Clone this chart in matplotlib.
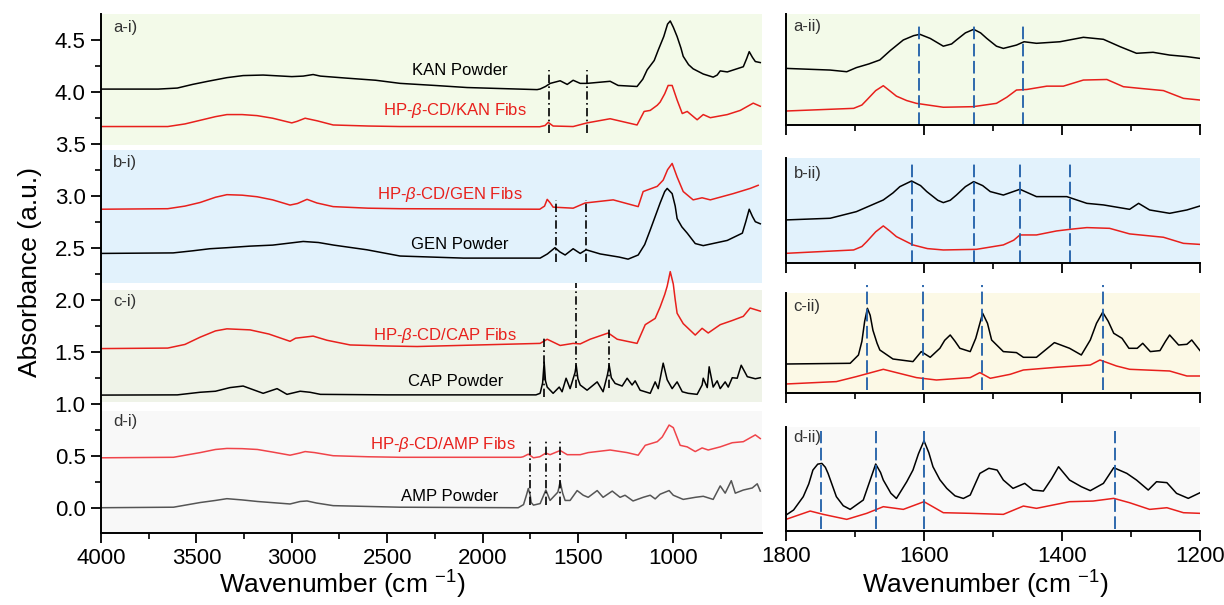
import numpy as np
import matplotlib
matplotlib.use('Agg')
import matplotlib.pyplot as plt
from matplotlib.ticker import MultipleLocator

plt.rcParams['font.family'] = ['Liberation Sans', 'DejaVu Sans']
plt.rcParams['mathtext.fontset'] = 'custom'
plt.rcParams['mathtext.rm'] = 'Liberation Sans'
plt.rcParams['mathtext.it'] = 'Liberation Sans:italic'

# ---- full-range spectra (wavenumber cm-1, absorbance a.u.) ----
kan_pow = np.array([(4000, 4.025), (3700, 4.025), (3600, 4.035), (3520, 4.07), (3440, 4.10), (3340, 4.135),
                    (3255, 4.155), (3150, 4.16), (3000, 4.145), (2940, 4.15), (2888, 4.165), (2850, 4.15),
                    (2710, 4.13), (2560, 4.11), (2432, 4.08), (2250, 4.06), (2081, 4.04), (1900, 4.03),
                    (1714, 4.02), (1698, 4.026), (1670, 4.05), (1645, 4.08), (1593, 4.105), (1556, 4.07),
                    (1525, 4.11), (1488, 4.08), (1452, 4.08), (1331, 4.10), (1289, 4.06), (1190, 4.05),
                    (1160, 4.12), (1137, 4.21), (1100, 4.30), (1079, 4.40), (1050, 4.53), (1030, 4.65),
                    (1016, 4.68), (1000, 4.62), (980, 4.53), (960, 4.42), (948, 4.34), (920, 4.26),
                    (896, 4.22), (843, 4.17), (791, 4.14), (770, 4.16), (754, 4.20), (717, 4.19),
                    (633, 4.24), (615, 4.32), (602, 4.385), (585, 4.33), (570, 4.29), (544, 4.28)])
kan_fib = np.array([(4000, 3.665), (3650, 3.665), (3560, 3.69), (3480, 3.725), (3400, 3.76), (3340, 3.78),
                    (3260, 3.78), (3182, 3.77), (3100, 3.745), (3000, 3.70), (2972, 3.715), (2930, 3.745),
                    (2867, 3.72), (2783, 3.68), (2600, 3.67), (2432, 3.665), (1700, 3.663), (1672, 3.675),
                    (1656, 3.705), (1630, 3.67), (1525, 3.665), (1452, 3.70), (1331, 3.74), (1190, 3.68),
                    (1153, 3.81), (1121, 3.82), (1084, 3.87), (1069, 3.90), (1045, 3.98), (1027, 4.06),
                    (1006, 4.06), (980, 3.92), (953, 3.79), (927, 3.81), (875, 3.73), (843, 3.78),
                    (806, 3.75), (717, 3.78), (649, 3.82), (581, 3.89), (544, 3.86)])
gen_fib = np.array([(4000, 2.87), (3650, 2.875), (3560, 2.90), (3480, 2.935), (3400, 2.985), (3340, 3.01),
                    (3260, 3.005), (3182, 2.99), (3100, 2.96), (3009, 2.91), (2970, 2.925), (2920, 2.965),
                    (2868, 2.93), (2783, 2.895), (2600, 2.88), (2432, 2.875), (1700, 2.87), (1675, 2.90),
                    (1661, 2.965), (1645, 2.93), (1630, 2.89), (1525, 2.88), (1462, 2.93), (1315, 2.96),
                    (1184, 2.895), (1158, 3.04), (1084, 3.09), (1053, 3.15), (1030, 3.25), (1006, 3.31),
                    (980, 3.18), (948, 3.04), (896, 2.96), (849, 2.98), (806, 2.96), (686, 3.02),
                    (597, 3.07), (555, 3.10)])
gen_pow = np.array([(4000, 2.445), (3622, 2.45), (3520, 2.47), (3430, 2.49), (3340, 2.50), (3220, 2.515),
                    (3100, 2.525), (2940, 2.56), (2860, 2.55), (2780, 2.525), (2606, 2.48), (2432, 2.42),
                    (2100, 2.40), (1698, 2.40), (1660, 2.44), (1620, 2.50), (1595, 2.46), (1567, 2.43),
                    (1525, 2.49), (1488, 2.445), (1457, 2.48), (1383, 2.44), (1284, 2.41), (1237, 2.39),
                    (1184, 2.43), (1150, 2.53), (1121, 2.67), (1095, 2.80), (1069, 2.93), (1045, 3.04),
                    (1032, 3.07), (1006, 3.02), (990, 2.90), (980, 2.78), (955, 2.70), (927, 2.64),
                    (885, 2.54), (843, 2.52), (717, 2.57), (638, 2.64), (620, 2.75), (602, 2.87),
                    (585, 2.80), (570, 2.75), (544, 2.73)])
cap_fib = np.array([(4000, 1.53), (3650, 1.535), (3560, 1.57), (3480, 1.64), (3400, 1.70), (3340, 1.72),
                    (3219, 1.71), (3120, 1.67), (3009, 1.60), (2980, 1.63), (2888, 1.65), (2815, 1.61),
                    (2694, 1.565), (2500, 1.555), (2343, 1.55), (1698, 1.58), (1661, 1.62), (1593, 1.56),
                    (1525, 1.58), (1488, 1.575), (1436, 1.62), (1341, 1.68), (1294, 1.62), (1190, 1.58),
                    (1147, 1.76), (1095, 1.82), (1069, 1.93), (1045, 2.05), (1032, 2.13), (1016, 2.27),
                    (1000, 2.15), (990, 2.00), (980, 1.87), (948, 1.77), (885, 1.66), (849, 1.725),
                    (817, 1.68), (754, 1.76), (691, 1.80), (633, 1.84), (597, 1.92), (544, 1.89)])
cap_pow = np.array([(4000, 1.083), (3600, 1.085), (3481, 1.11), (3400, 1.12), (3324, 1.155), (3255, 1.17),
                    (3150, 1.10), (3077, 1.145), (3025, 1.09), (2956, 1.12), (2904, 1.11), (2850, 1.09),
                    (2500, 1.085), (1720, 1.085), (1698, 1.10), (1685, 1.20), (1677, 1.40), (1670, 1.22),
                    (1661, 1.16), (1630, 1.10), (1598, 1.16), (1583, 1.115), (1562, 1.245), (1541, 1.145),
                    (1515, 1.30), (1509, 1.37), (1500, 1.24), (1488, 1.18), (1452, 1.13), (1399, 1.21),
                    (1368, 1.115), (1345, 1.28), (1336, 1.37), (1325, 1.25), (1305, 1.195), (1268, 1.17),
                    (1242, 1.245), (1216, 1.18), (1200, 1.22), (1174, 1.13), (1121, 1.10), (1095, 1.21),
                    (1079, 1.145), (1053, 1.39), (1032, 1.23), (1006, 1.145), (980, 1.21), (953, 1.115),
                    (922, 1.10), (875, 1.09), (849, 1.18), (843, 1.245), (822, 1.155), (812, 1.355),
                    (791, 1.16), (770, 1.22), (754, 1.145), (728, 1.21), (712, 1.16), (691, 1.25),
                    (665, 1.245), (644, 1.37), (612, 1.26), (570, 1.24), (544, 1.25)])
amp_fib = np.array([(4000, 0.48), (3620, 0.485), (3480, 0.53), (3400, 0.56), (3340, 0.57), (3260, 0.568),
                    (3180, 0.56), (3100, 0.535), (3009, 0.505), (2960, 0.525), (2930, 0.54), (2880, 0.53),
                    (2783, 0.50), (2600, 0.49), (2432, 0.485), (1800, 0.485), (1787, 0.49), (1760, 0.515),
                    (1733, 0.48), (1700, 0.49), (1668, 0.525), (1646, 0.51), (1593, 0.55), (1556, 0.51),
                    (1488, 0.51), (1446, 0.53), (1331, 0.555), (1242, 0.53), (1184, 0.505), (1147, 0.60),
                    (1084, 0.635), (1058, 0.68), (1022, 0.795), (1000, 0.77), (964, 0.60), (927, 0.585),
                    (885, 0.54), (849, 0.575), (817, 0.555), (754, 0.585), (691, 0.625), (633, 0.635),
                    (570, 0.70), (544, 0.665)])
amp_pow = np.array([(4000, 0.0), (3620, 0.005), (3480, 0.05), (3400, 0.07), (3340, 0.087), (3260, 0.075),
                    (3180, 0.06), (3009, 0.036), (2956, 0.06), (2920, 0.065), (2870, 0.045), (2783, 0.02),
                    (2432, 0.005), (1813, 0.0), (1785, 0.03), (1770, 0.12), (1760, 0.185), (1750, 0.12),
                    (1745, 0.05), (1733, 0.025), (1698, 0.04), (1668, 0.17), (1646, 0.07), (1605, 0.15),
                    (1593, 0.25), (1580, 0.14), (1567, 0.07), (1541, 0.07), (1504, 0.165), (1472, 0.12),
                    (1446, 0.10), (1399, 0.165), (1368, 0.10), (1320, 0.16), (1279, 0.10), (1253, 0.12),
                    (1211, 0.065), (1158, 0.10), (1121, 0.12), (1095, 0.085), (1069, 0.13), (1022, 0.165),
                    (1000, 0.12), (948, 0.08), (885, 0.10), (843, 0.11), (791, 0.08), (754, 0.21),
                    (728, 0.14), (696, 0.26), (675, 0.14), (633, 0.17), (586, 0.19), (560, 0.23), (544, 0.16)])

# marker lines in the full-range panel: (wavenumber, y from, y to)
marks_left = [(1650, 3.60, 4.21), (1452, 3.60, 4.21),
              (1614, 2.365, 2.96), (1457, 2.365, 2.96),
              (1677, 1.06, 1.64), (1509, 1.15, 2.16), (1336, 1.15, 1.74),
              (1750, 0.03, 0.65), (1668, 0.03, 0.65), (1593, 0.03, 0.65)]

# ---- zoomed spectra 1800-1200 cm-1 (relative units, 0-100 of panel height) ----
kan_pow_z = np.array([(1800, 51), (1736, 49.5), (1712, 48), (1698, 51.7), (1680, 55), (1664, 58.6), (1649, 67),
                      (1630, 76.6), (1615, 80.5), (1606, 81.7), (1591, 78), (1572, 71), (1560, 73), (1553, 76.6),
                      (1540, 83), (1528, 86.2), (1518, 83), (1509, 78), (1495, 71), (1485, 69), (1466, 72),
                      (1455, 75), (1437, 73.6), (1403, 75), (1369, 79), (1340, 77.2), (1316, 70.6),
                      (1292, 64.6), (1268, 65.5), (1244, 63), (1219, 61.6), (1200, 60)])
kan_fib_z = np.array([(1800, 12.6), (1702, 15), (1690, 18), (1683, 22.5), (1670, 31), (1659, 35.4),
                      (1650, 31), (1640, 26), (1625, 22), (1611, 19.5), (1572, 16), (1529, 16.5), (1495, 19.5),
                      (1480, 25), (1466, 31.5), (1451, 32), (1422, 35), (1398, 35), (1369, 40.5), (1335, 41),
                      (1311, 34.5), (1287, 33), (1253, 31), (1224, 24), (1200, 22.5)])
gen_pow_z = np.array([(1800, 41.3), (1736, 42.9), (1698, 49.2), (1659, 60.3), (1645, 67), (1635, 73),
                      (1618, 78.4), (1605, 74), (1596, 68.3), (1580, 60), (1572, 57.8), (1562, 60),
                      (1553, 65), (1540, 73), (1528, 77.8), (1515, 74), (1504, 68.3), (1485, 65),
                      (1461, 70.5), (1437, 63.5), (1393, 63.5), (1364, 57.1), (1340, 55.6), (1302, 51.4),
                      (1289, 57.1), (1273, 50.8), (1244, 47.6), (1219, 50.8), (1200, 54.6)])
gen_fib_z = np.array([(1800, 9.5), (1702, 12.7), (1690, 16), (1683, 20.6), (1670, 30), (1659, 35.6),
                      (1650, 31), (1640, 25.4), (1616, 17.5), (1595, 14), (1572, 12.7), (1524, 13.3),
                      (1485, 17.5), (1470, 22), (1461, 27), (1437, 27), (1408, 30.8), (1388, 32.4),
                      (1364, 34), (1331, 33.3), (1302, 28), (1253, 24.8), (1224, 19), (1200, 18)])
cap_pow_z = np.array([(1800, 29.3), (1707, 30), (1695, 38.3), (1690, 52), (1686, 72), (1682, 85), (1678, 78),
                      (1674, 63), (1668, 50), (1664, 43.3), (1645, 34.3), (1616, 31.7), (1604, 41.7),
                      (1591, 36), (1577, 45), (1570, 53), (1562, 58.3), (1555, 52), (1548, 45), (1533, 41.7),
                      (1525, 55), (1515, 80), (1508, 70), (1502, 53.3), (1485, 41.7), (1466, 40.7), (1456, 36),
                      (1437, 36), (1411, 50.7), (1389, 45), (1372, 38.3), (1359, 53.3), (1350, 70), (1341, 81),
                      (1333, 72), (1325, 60), (1313, 55), (1303, 45), (1291, 45), (1283, 50), (1272, 41.7),
                      (1258, 42.7), (1250, 52), (1244, 58.3), (1231, 48.3), (1219, 49), (1212, 53.3),
                      (1200, 42.7)])
cap_fib_z = np.array([(1800, 9.3), (1727, 11.7), (1698, 16.7), (1659, 24), (1640, 20.7), (1611, 15.7),
                      (1582, 13.3), (1533, 15.7), (1519, 20.7), (1504, 15), (1475, 19), (1456, 23.3),
                      (1408, 26), (1359, 28.3), (1345, 33.3), (1321, 27.3), (1302, 24), (1244, 22.3),
                      (1219, 17.3), (1200, 17.3)])
amp_pow_z = np.array([(1800, 15), (1789, 19.9), (1775, 32.7), (1767, 45), (1761, 58.3), (1754, 64),
                      (1748, 64.7), (1743, 61), (1739, 55), (1727, 32.7), (1717, 24), (1707, 20.5),
                      (1688, 29.5), (1678, 48.7), (1670, 64.1), (1663, 56), (1659, 48.7), (1648, 36),
                      (1640, 31), (1625, 47.1), (1616, 58.3), (1608, 74), (1600, 86.5), (1593, 75),
                      (1587, 61.5), (1577, 49), (1567, 40.7), (1555, 33.5), (1543, 31), (1533, 34.3),
                      (1519, 55.1), (1506, 60), (1494, 58.3), (1485, 48.7), (1471, 40.7), (1454, 45.5),
                      (1442, 39.1), (1427, 38.1), (1415, 50), (1405, 61.5), (1389, 48.7), (1372, 42.3),
                      (1359, 38.5), (1340, 45.5), (1325, 60.6), (1306, 55.1), (1292, 48.7), (1275, 39.1),
                      (1263, 47.1), (1248, 46.2), (1234, 35.9), (1217, 31.1), (1200, 36.5)])
amp_fib_z = np.array([(1800, 10.9), (1765, 18.9), (1746, 15.7), (1712, 10.9), (1683, 16.7), (1659, 23.1),
                      (1630, 20.5), (1600, 27.9), (1572, 17.3), (1533, 16.7), (1485, 15.7), (1456, 23.7),
                      (1437, 21.5), (1389, 27.9), (1355, 28.5), (1325, 31.1), (1302, 26.9), (1273, 20.5),
                      (1248, 22.1), (1224, 17.3), (1200, 16.7)])

marks_a = [1607, 1528, 1456]
marks_b = [1618, 1527, 1461, 1389]
marks_c = [1683, 1601, 1516, 1341]
marks_d = [1749, 1670, 1600, 1323]

RED = '#e8201c'
RED2 = '#f0444a'
BLUE = '#1f5ea8'
GREEN_BG = '#f3fae9'
BLUE_BG = '#e2f2fc'
GRAY_GREEN_BG = '#eff3e8'
GRAY_BG = '#f8f8f8'
YELLOW_BG = '#fcf9e6'

W, H = 1224, 605
fig = plt.figure(figsize=(W / 100, H / 100), dpi=100)


def style(ax):
    ax.spines['top'].set_visible(False)
    ax.spines['right'].set_visible(False)
    ax.spines['left'].set_linewidth(1.4)
    ax.spines['bottom'].set_linewidth(1.4)


# ---------------- left panel ----------------
ax = fig.add_axes([101 / W, 1 - 533 / H, 661 / W, 519 / H])
style(ax)
ax.set_xlim(4000, 535)
ax.set_ylim(-0.243, 4.747)
ax.axhspan(3.49, 4.747, color=GREEN_BG, lw=0, zorder=0)
ax.axhspan(2.16, 3.44, color=BLUE_BG, lw=0, zorder=0)
ax.axhspan(1.013, 2.09, color=GRAY_GREEN_BG, lw=0, zorder=0)
ax.axhspan(-0.243, 0.93, color=GRAY_BG, lw=0, zorder=0)

for s, c in [(kan_pow, 'k'), (kan_fib, RED), (gen_fib, RED), (gen_pow, 'k'),
             (cap_fib, RED), (cap_pow, 'k'), (amp_fib, RED2), (amp_pow, '#555555')]:
    ax.plot(s[:, 0], s[:, 1], color=c, lw=1.1, solid_joinstyle='round')
for x, y0, y1 in marks_left:
    ax.plot([x, x], [y0, y1], color='k', lw=1.2, ls=(0, (5, 2, 1, 2)))

fs = 12
ax.text(1871, 4.20, 'KAN Powder', ha='right', va='center', fontsize=fs)
ax.text(1766, 3.82, r'HP-$\beta$-CD/KAN Fibs', ha='right', va='center', fontsize=fs, color=RED)
ax.text(1792, 3.01, r'HP-$\beta$-CD/GEN Fibs', ha='right', va='center', fontsize=fs, color=RED)
ax.text(1866, 2.53, 'GEN Powder', ha='right', va='center', fontsize=fs)
ax.text(1818, 1.66, r'HP-$\beta$-CD/CAP Fibs', ha='right', va='center', fontsize=fs, color=RED)
ax.text(1892, 1.21, 'CAP Powder', ha='right', va='center', fontsize=fs)
ax.text(1824, 0.61, r'HP-$\beta$-CD/AMP Fibs', ha='right', va='center', fontsize=fs, color=RED)
ax.text(1918, 0.105, 'AMP Powder', ha='right', va='center', fontsize=fs)
for lab, y in [('a-i)', 4.62), ('b-i)', 3.32), ('c-i)', 1.98), ('d-i)', 0.83)]:
    ax.text(3937, y, lab, ha='left', va='center', fontsize=12, color='#333333')

ax.xaxis.set_minor_locator(MultipleLocator(250))
ax.yaxis.set_minor_locator(MultipleLocator(0.25))
ax.set_yticks(np.arange(0, 4.51, 0.5))
ax.set_yticklabels(['%.1f' % v for v in np.arange(0, 4.51, 0.5)])
ax.set_xticks(np.arange(1000, 4001, 500))
ax.tick_params(which='major', direction='out', length=7, width=1.3, labelsize=16, pad=4)
ax.tick_params(which='minor', direction='out', length=4, width=1.2)

fig.text(30 / W, 1 - 272 / H, 'Absorbance (a.u.)', rotation=90, ha='center', va='center', fontsize=19)
fig.text(342 / W, 1 - 585 / H, r'Wavenumber (cm $^{-1}$)', ha='center', va='center', fontsize=19)

# ---------------- right panels ----------------
panels = [
    (14, 125, GREEN_BG, kan_pow_z, kan_fib_z, marks_a, (91.6, 0), 'a-ii)', 0.886),
    (158.3, 263.3, BLUE_BG, gen_pow_z, gen_fib_z, marks_b, (95.2, 0), 'b-ii)', 0.857),
    (293.3, 393.3, YELLOW_BG, cap_pow_z, cap_fib_z, marks_c, (108, 3), 'c-ii)', 0.867),
    (426.7, 530.7, '#f9f9f9', amp_pow_z, amp_fib_z, marks_d, (96, 2), 'd-ii)', 0.90),
]
for i, (top, bot, bg, pw, fb, mk, span, lab, ly) in enumerate(panels):
    a = fig.add_axes([786 / W, 1 - bot / H, 414 / W, (bot - top) / H])
    style(a)
    a.set_facecolor(bg)
    a.set_xlim(1800, 1200)
    a.set_ylim(0, 100)
    a.plot(pw[:, 0], pw[:, 1], color='k', lw=1.1, solid_joinstyle='round')
    a.plot(fb[:, 0], fb[:, 1], color=RED, lw=1.1, solid_joinstyle='round')
    for x in mk:
        a.plot([x, x], [span[1], span[0]], color=BLUE, lw=1.3, ls=(0, (7, 2.5)), clip_on=False)
    a.text(0.018, ly, lab, transform=a.transAxes, ha='left', va='center', fontsize=12, color='#333333')
    a.set_yticks([])
    a.xaxis.set_major_locator(MultipleLocator(200))
    a.xaxis.set_minor_locator(MultipleLocator(100))
    a.tick_params(which='major', direction='out', length=7, width=1.3, labelsize=16, pad=4)
    a.tick_params(which='minor', direction='out', length=4, width=1.2)
    if i < 3:
        a.tick_params(labelbottom=False)

fig.text(985 / W, 1 - 585 / H, r'Wavenumber (cm $^{-1}$)', ha='center', va='center', fontsize=19)

fig.savefig('out.png', dpi=100)
